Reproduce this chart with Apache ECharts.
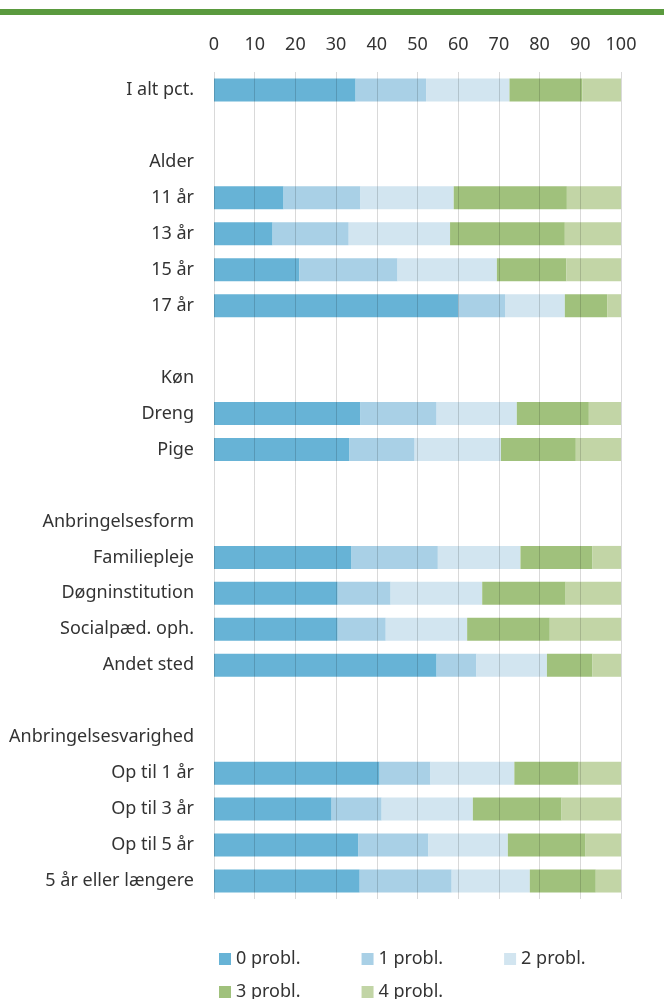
<!DOCTYPE html>
<html lang="da">
<head>
    <meta charset="UTF-8">
    <title>Problemer</title>
    <script src="https://cdn.jsdelivr.net/npm/echarts@6/dist/echarts.min.js"></script>
    <style>
        html, body { margin: 0; padding: 0; background: #fff; }
        #main { width: 664px; height: 999px; }
    </style>
</head>
<body>
<div id="main"></div>

<script>
    // kategorier (tomme raekker og overskrifter har ingen data)
    var categories = ['I alt pct.', ' ', 'Alder', '11 år', '13 år', '15 år', '17 år', '  ',
        'Køn', 'Dreng', 'Pige', '   ',
        'Anbringelsesform', 'Familiepleje', 'Døgninstitution', 'Socialpæd. oph.', 'Andet sted', '    ',
        'Anbringelsesvarighed', 'Op til 1 år', 'Op til 3 år', 'Op til 5 år', '5 år eller længere'];

    var seriesNames = ['0 probl.', '1 probl.', '2 probl.', '3 probl.', '4 probl.'];
    var colors = ['#67b3d6', '#a9d0e6', '#d2e5f0', '#a0c17c', '#c2d5a6'];
    var xTicks = [0, 10, 20, 30, 40, 50, 60, 70, 80, 90, 100];

    var p0 = [34.8, null, null, 17.1, 14.4, 21.0, 60.0, null, null, 36.0, 33.3, null, null, 33.8, 30.4, 30.4, 54.7, null, null, 40.7, 28.9, 35.4, 35.8];
    var p1 = [17.3, null, null, 18.9, 18.7, 24.1, 11.5, null, null, 18.7, 16.0, null, null, 21.2, 13.0, 11.8, 9.8, null, null, 12.5, 12.3, 17.3, 22.6];
    var p2 = [20.5, null, null, 22.9, 24.9, 24.4, 14.7, null, null, 19.7, 21.2, null, null, 20.3, 22.5, 20.0, 17.3, null, null, 20.6, 22.4, 19.5, 19.2];
    var p3 = [17.9, null, null, 27.8, 28.2, 17.1, 10.4, null, null, 17.7, 18.4, null, null, 17.7, 20.5, 20.3, 11.2, null, null, 15.8, 21.8, 19.1, 16.2];
    var p4 = [9.5, null, null, 13.3, 13.8, 13.4, 3.4, null, null, 7.9, 11.1, null, null, 7.0, 13.6, 17.5, 7.0, null, null, 10.4, 14.6, 8.7, 6.2];

    var values = [p0, p1, p2, p3, p4];
    var font = '"Noto Sans", "DejaVu Sans", sans-serif';

    var series = [];
    for (var i = 0; i < seriesNames.length; i++) {
        series.push({
            name: seriesNames[i],
            type: 'bar',
            stack: 'total',
            barWidth: 23,
            itemStyle: {color: colors[i]},
            data: values[i]
        });
    }

    var myChart = echarts.init(document.getElementById('main'));

    option = {
        animation: false,
        color: colors,
        textStyle: {fontFamily: font},
        graphic: [
            {
                type: 'rect',
                left: 0,
                top: 9,
                shape: {width: 664, height: 6},
                style: {fill: '#5a9a3e'}
            }
        ],
        legend: [
            {
                data: seriesNames.slice(0, 3),
                left: 219,
                top: 950,
                padding: 0,
                itemWidth: 12,
                itemHeight: 12,
                itemGap: 61,
                icon: 'rect',
                textStyle: {fontSize: 18, color: '#333', fontFamily: font}
            },
            {
                data: seriesNames.slice(3),
                left: 219,
                top: 983,
                padding: 0,
                itemWidth: 12,
                itemHeight: 12,
                itemGap: 61,
                icon: 'rect',
                textStyle: {fontSize: 18, color: '#333', fontFamily: font}
            }
        ],
        grid: {
            left: 214,
            right: 43,
            top: 72,
            bottom: 100,
            containLabel: false
        },
        xAxis: {
            type: 'value',
            position: 'top',
            min: 0,
            max: 100,
            interval: 10,
            z: 3,
            axisLine: {show: false},
            axisTick: {show: false},
            axisLabel: {fontSize: 18, color: '#333', fontFamily: font, margin: 18},
            splitLine: {lineStyle: {color: 'rgba(0,0,0,0.15)', width: 1}}
        },
        yAxis: {
            type: 'category',
            inverse: true,
            data: categories,
            axisLine: {show: false},
            axisTick: {show: false},
            axisLabel: {fontSize: 18, color: '#333', fontFamily: font, margin: 20}
        },
        series: series
    };

    myChart.setOption(option, true);
</script>
</body>
</html>
